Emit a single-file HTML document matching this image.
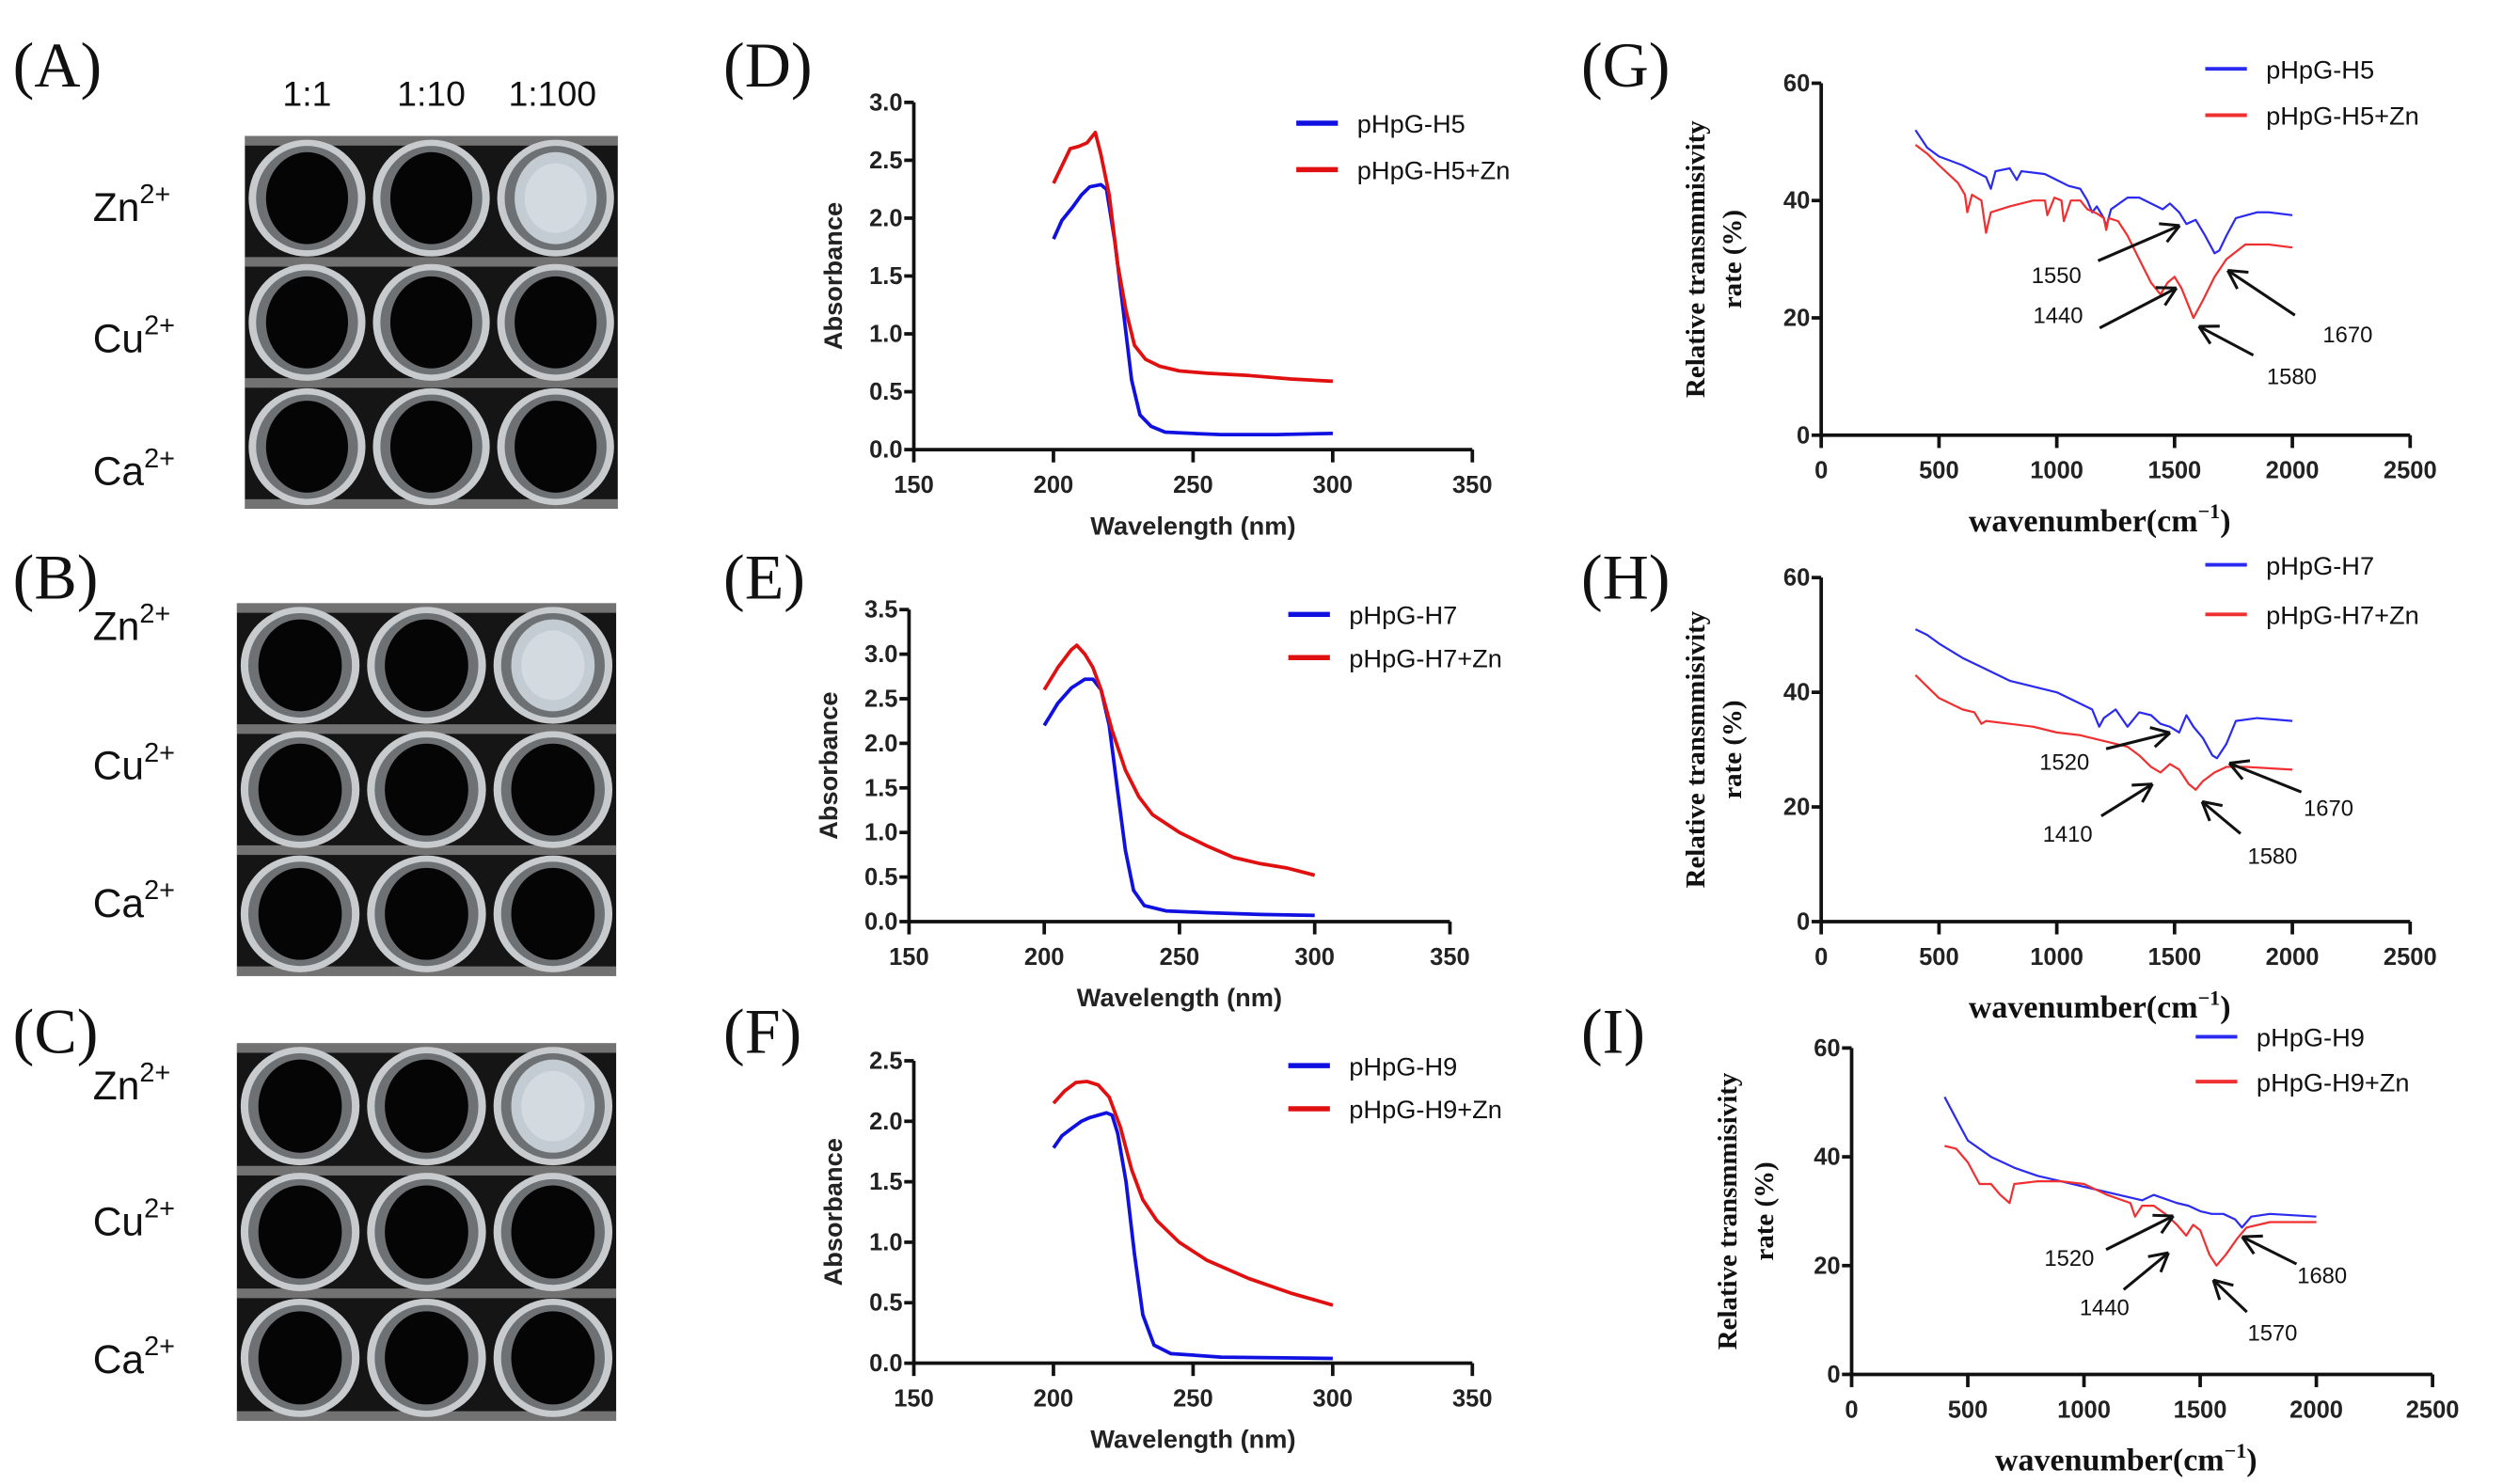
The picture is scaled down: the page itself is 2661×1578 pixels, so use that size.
<!DOCTYPE html>
<html><head><meta charset="utf-8"><style>
html,body{margin:0;padding:0;background:#fff;}
svg{display:block;}
.tk{font-family:"Liberation Sans",Arial,sans-serif;font-size:15px;font-weight:bold;fill:#222;}
.lg{font-family:"Liberation Sans",Arial,sans-serif;font-size:16px;fill:#111;}
.pl{font-family:"Liberation Serif",serif;font-size:40px;fill:#111;}
.ann{font-family:"Liberation Sans Narrow","Liberation Sans",sans-serif;font-size:14px;fill:#111;}
.ser{font-family:"Liberation Serif",serif;font-weight:bold;fill:#111;}
</style></head><body>
<svg id="fig" width="2661" height="1578" viewBox="0 0 1564 927.5" xmlns="http://www.w3.org/2000/svg">
<g id="photos"></g>
<g id="charts"></g>
</svg>
<script>
// ---- UV spectra data (wavelength nm, absorbance) ----
const dX_H5=[200,203,207,210,213,217,219,222,225,228,231,235,240,250,260,280,300];
const dY_H5=[1.82,1.98,2.1,2.2,2.27,2.29,2.25,1.8,1.2,0.6,0.3,0.2,0.15,0.14,0.13,0.13,0.14];
const dX_H5Zn=[200,203,206,209,212,215,217,220,223,226,229,233,238,245,255,270,285,300];
const dY_H5Zn=[2.3,2.45,2.6,2.62,2.65,2.74,2.55,2.2,1.6,1.2,0.9,0.78,0.72,0.68,0.66,0.64,0.61,0.59];
const eX_H7=[200,205,210,215,218,221,224,227,230,233,237,245,260,280,300];
const eY_H7=[2.2,2.45,2.62,2.72,2.72,2.6,2.2,1.5,0.8,0.35,0.18,0.12,0.1,0.08,0.07];
const eX_H7Zn=[200,205,210,212,215,218,221,225,230,235,240,250,260,270,280,290,300];
const eY_H7Zn=[2.6,2.85,3.05,3.1,3.0,2.85,2.6,2.15,1.7,1.4,1.2,1.0,0.85,0.72,0.65,0.6,0.52];
const fX_H9=[200,203,207,210,213,216,219,221,223,226,229,232,236,242,260,300];
const fY_H9=[1.78,1.88,1.95,2.0,2.03,2.05,2.07,2.05,1.9,1.5,0.9,0.4,0.15,0.08,0.05,0.04];
const fX_H9Zn=[200,204,208,212,216,220,224,228,232,237,245,255,270,285,300];
const fY_H9Zn=[2.15,2.25,2.32,2.33,2.3,2.2,1.95,1.6,1.35,1.18,1.0,0.85,0.7,0.58,0.48];
const uvXTicks=[150,200,250,300,350];
const dYTicks=[0,0.5,1.0,1.5,2.0,2.5,3.0];
const eYTicks=[0,0.5,1.0,1.5,2.0,2.5,3.0,3.5];
const fYTicks=[0,0.5,1.0,1.5,2.0,2.5];
// ---- FTIR data (wavenumber, transmissivity %) ----
const gX_H5=[400,450,500,600,700,720,740,800,830,850,950,1000,1050,1100,1130,1150,1170,1200,1210,1230,1300,1350,1400,1450,1480,1520,1550,1590,1630,1670,1690,1720,1760,1850,1900,2000];
const gY_H5=[52,49,47.5,46,44,42,45,45.5,43.5,45,44.5,43.5,42.5,42,40,38,39,37,35.5,38.5,40.5,40.5,39.5,38.5,39.5,38,36,36.7,34,31,31.5,34,37,38,38,37.5];
const gX_H5Zn=[400,450,500,580,610,620,640,680,700,720,800,900,950,960,990,1020,1030,1060,1100,1130,1170,1200,1210,1220,1260,1300,1350,1400,1440,1470,1500,1530,1580,1620,1670,1720,1800,1900,2000];
const gY_H5Zn=[49.5,48,46,43,41,38,41,40,34.5,38,39,40,40,37.5,40.5,40,36.5,40,40,38.5,37.8,37,35,37,36.5,34,30,26,24,26,27,25,20,23,27,30,32.5,32.5,32];
const hX_H7=[400,450,500,600,700,800,900,1000,1100,1150,1180,1200,1250,1300,1350,1400,1440,1480,1520,1550,1580,1620,1660,1680,1720,1760,1850,2000];
const hY_H7=[51,50,48.5,46,44,42,41,40,38,37,34,35.5,37,34,36.5,36,34.5,34,33,36,34,32,29,28.5,31,35,35.5,35];
const hX_H7Zn=[400,450,500,600,650,680,700,800,900,1000,1100,1200,1250,1300,1350,1400,1440,1480,1520,1560,1590,1620,1670,1720,1800,2000];
const hY_H7Zn=[43,41,39,37,36.5,34.5,35,34.5,34,33,32.5,31.5,31,30.5,29,27,26,27.5,26.5,24,23,24.5,26,27,27,26.5];
const iX_H9=[400,450,500,600,700,800,900,1000,1100,1200,1250,1300,1400,1450,1500,1550,1600,1650,1680,1720,1800,2000];
const iY_H9=[51,47,43,40,38,36.5,35.5,34.5,33.5,32.5,32,33,31.5,31,30,29.5,29.5,28.5,27,29,29.5,29];
const iX_H9Zn=[400,450,500,550,600,640,680,700,800,900,1000,1100,1200,1220,1250,1300,1350,1400,1440,1470,1500,1540,1570,1610,1660,1700,1800,2000];
const iY_H9Zn=[42,41.5,39,35,35,33,31.5,35,35.5,35.5,35,33,31.5,29,31,31,29.5,27.5,25.5,27.5,26.5,22,20,22,25,27,28,28];
const irXTicks=[0,500,1000,1500,2000,2500];
const irYTicks=[0,20,40,60];

const NS="http://www.w3.org/2000/svg";
function mk(parent,tag,attrs,text){const e=document.createElementNS(NS,tag);for(const k in attrs)e.setAttribute(k,attrs[k]);if(text!==undefined)e.textContent=text;parent.appendChild(e);return e;}
const charts=document.getElementById('charts');

function chart(p){
  const g=mk(charts,'g',{});
  
  
  const sx=v=>p.x0+(v-p.xmin)/(p.xmax-p.xmin)*(p.x1-p.x0);
  const sy=v=>p.y0-(v-p.ymin)/(p.ymax-p.ymin)*(p.y0-p.y1);
  const ax=mk(g,'g',{stroke:'#111','stroke-width':2.2,fill:'none'});
  
  
  mk(ax,'line',{x1:p.x0,y1:p.y0,x2:p.x1,y2:p.y0});
  mk(ax,'line',{x1:p.x0,y1:p.y0,x2:p.x0,y2:p.y1});
  p.xt.forEach(t=>{mk(ax,'line',{x1:sx(t),y1:p.y0,x2:sx(t),y2:p.y0+8});
    const l=mk(g,'text',{x:sx(t),y:p.y0+27,'text-anchor':'middle',class:'tk'},String(t));
    
    });
  p.yt.forEach(t=>{mk(ax,'line',{x1:p.x0-6,y1:sy(t),x2:p.x0,y2:sy(t)});
    const l=mk(g,'text',{x:p.x0-7,y:sy(t)+5,'text-anchor':'end',class:'tk'},p.fmt(t));
    
    });
  p.series.forEach((s,i)=>{
    const d=s.x.map((v,j)=>(j?'L':'M')+sx(v).toFixed(1)+','+sy(s.y[j]).toFixed(1)).join('');
    const path=mk(g,'path',{d:d,fill:'none',stroke:s.c,'stroke-width':p.lw,'stroke-linejoin':'round'});
    
    
    const ly=p.legY+i*p.legGap;
    const le=mk(g,'g',{});
    
    
    mk(le,'line',{x1:p.legX,y1:ly,x2:p.legX+26,y2:ly,stroke:s.c,'stroke-width':p.lw+1});
    mk(le,'text',{x:p.legX+38,y:ly+6,class:'lg'},s.n);
  });
  return {g,sx,sy};
}

function uvLabels(c,p){
  const xl=mk(c.g,'text',{x:(p.x0+p.x1)/2,y:p.y0+53,'text-anchor':'middle',class:'tk',style:'font-size:16px'},'Wavelength (nm)');
  
  
  const cy=(p.y0+p.y1)/2;
  const yl=mk(c.g,'text',{x:p.x0-45,y:cy,'text-anchor':'middle',class:'tk',style:'font-size:16px',transform:`rotate(-90 ${p.x0-45} ${cy})`},'Absorbance');
  
  
}
function irLabels(c,p,ylx){
  const xl=mk(c.g,'text',{x:(p.x0+p.x1)/2-10,y:p.y0+60,'text-anchor':'middle',class:'ser',style:'font-size:20px'},'wavenumber(cm');
  
  
  mk(xl,'tspan',{dy:-8,style:'font-size:13px'},'−1');
  mk(xl,'tspan',{dy:8},')');
  const cy=(p.y0+p.y1)/2;
  const y1=mk(c.g,'text',{x:ylx,y:cy,'text-anchor':'middle',class:'ser',style:'font-size:17px',transform:`rotate(-90 ${ylx} ${cy})`},'Relative transmmisivity');
  
  
  const y2=mk(c.g,'text',{x:ylx+23,y:cy,'text-anchor':'middle',class:'ser',style:'font-size:17px',transform:`rotate(-90 ${ylx+23} ${cy})`},'rate (%)');
  
  
}
function arrow(g,x1,y1,x2,y2,label,tx,ty){
  const a=mk(g,'g',{stroke:'#111','stroke-width':1.8,fill:'none'});
  
  
  mk(a,'line',{x1,y1,x2,y2});
  const ang=Math.atan2(y2-y1,x2-x1),L=13;
  [0.5,-0.5].forEach(o=>mk(a,'line',{x1:x2,y1:y2,x2:x2-L*Math.cos(ang+o),y2:y2-L*Math.sin(ang+o)}));
  mk(g,'text',{x:tx,y:ty,'text-anchor':'middle',class:'ann'},label);
}
const f1=t=>t.toFixed(1), f0=t=>String(t);

// D
let p={name:'chart-d',x0:571,x1:920,y0:281,y1:64,xmin:150,xmax:350,ymin:0,ymax:3,xt:uvXTicks,yt:dYTicks,fmt:f1,lw:2.2,legX:810,legY:77,legGap:29,
 series:[{n:'pHpG-H5',c:'#1010e0',x:dX_H5,y:dY_H5},{n:'pHpG-H5+Zn',c:'#e01010',x:dX_H5Zn,y:dY_H5Zn}]};
uvLabels(chart(p),p);
// E
p={name:'chart-e',x0:568,x1:906,y0:576,y1:381,xmin:150,xmax:350,ymin:0,ymax:3.5,xt:uvXTicks,yt:eYTicks,fmt:f1,lw:2.2,legX:805,legY:384,legGap:27,
 series:[{n:'pHpG-H7',c:'#1010e0',x:eX_H7,y:eY_H7},{n:'pHpG-H7+Zn',c:'#e01010',x:eX_H7Zn,y:eY_H7Zn}]};
uvLabels(chart(p),p);
// F
p={name:'chart-f',x0:571,x1:920,y0:852,y1:663,xmin:150,xmax:350,ymin:0,ymax:2.5,xt:uvXTicks,yt:fYTicks,fmt:f1,lw:2.2,legX:805,legY:666,legGap:27,
 series:[{n:'pHpG-H9',c:'#1010e0',x:fX_H9,y:fY_H9},{n:'pHpG-H9+Zn',c:'#e01010',x:fX_H9Zn,y:fY_H9Zn}]};
uvLabels(chart(p),p);
// G
p={name:'chart-g',x0:1138,x1:1506,y0:272,y1:52,xmin:0,xmax:2500,ymin:0,ymax:60,xt:irXTicks,yt:irYTicks,fmt:f0,lw:1.3,legX:1378,legY:43,legGap:29,
 series:[{n:'pHpG-H5',c:'#2a2af0',x:gX_H5,y:gY_H5},{n:'pHpG-H5+Zn',c:'#f03030',x:gX_H5Zn,y:gY_H5Zn}]};
let c=chart(p);irLabels(c,p,1065);
arrow(c.g,1311,163,1362,141,'1550',1285,177);
arrow(c.g,1312,205,1360,180,'1440',1286,202);
arrow(c.g,1408,222,1374,204,'1580',1432,240);
arrow(c.g,1434,197,1392,169,'1670',1467,214);
// H
p={name:'chart-h',x0:1138,x1:1506,y0:576,y1:361,xmin:0,xmax:2500,ymin:0,ymax:60,xt:irXTicks,yt:irYTicks,fmt:f0,lw:1.3,legX:1378,legY:353,legGap:31,
 series:[{n:'pHpG-H7',c:'#2a2af0',x:hX_H7,y:hY_H7},{n:'pHpG-H7+Zn',c:'#f03030',x:hX_H7Zn,y:hY_H7Zn}]};
c=chart(p);irLabels(c,p,1065);
arrow(c.g,1316,468,1356,458,'1520',1290,481);
arrow(c.g,1313,510,1345,490,'1410',1292,526);
arrow(c.g,1400,521,1376,501,'1580',1420,540);
arrow(c.g,1438,495,1393,477,'1670',1455,510);
// I
p={name:'chart-i',x0:1157,x1:1520,y0:859,y1:655,xmin:0,xmax:2500,ymin:0,ymax:60,xt:irXTicks,yt:irYTicks,fmt:f0,lw:1.3,legX:1372,legY:648,legGap:28,
 series:[{n:'pHpG-H9',c:'#2a2af0',x:iX_H9,y:iY_H9},{n:'pHpG-H9+Zn',c:'#f03030',x:iX_H9Zn,y:iY_H9Zn}]};
c=chart(p);irLabels(c,p,1085);
arrow(c.g,1316,781,1358,760,'1520',1293,791);
arrow(c.g,1327,806,1355,783,'1440',1315,822);
arrow(c.g,1404,820,1383,800,'1570',1420,838);
arrow(c.g,1435,790,1401,773,'1680',1451,802);

// panel labels
[['(A)',8,48],['(B)',8,368],['(C)',8,652],['(D)',452,48],['(E)',452,368],['(F)',452,652],['(G)',988,48],['(H)',988,368],['(I)',988,652]].forEach(a=>{
  const t=mk(charts,'text',{x:a[1],y:a[2]+6,class:'pl'},a[0]);
  
  
});

// photos
const photos=document.getElementById('photos');
const plates=[{x:153,y:85,w:233,h:233,hdr:true,ly:[128,210,293]},{x:148,y:377,w:237,h:233,ly:[390,477,563]},{x:148,y:652,w:237,h:236,ly:[677,762,848]}];
const conc=['1:1','1:10','1:100'];
const ions=['Zn','Cu','Ca'];
plates.forEach((pl,k)=>{
  const g=mk(photos,'g',{});
  
  
  mk(g,'rect',{x:pl.x,y:pl.y,width:pl.w,height:pl.h,fill:'#151515'});
  for(let r=0;r<4;r++){mk(g,'rect',{x:pl.x,y:pl.y+3+r*(pl.h-6)/3-3,width:pl.w,height:6,fill:'#b0b0b0',opacity:0.6});}
  const cw=pl.w/3,ch=pl.h/3;
  for(let r=0;r<3;r++)for(let q=0;q<3;q++){
    const cx=pl.x+cw*(q+0.5),cy=pl.y+ch*(r+0.5);
    mk(g,'ellipse',{cx,cy,rx:cw*0.47,ry:ch*0.47,fill:'#c8cbcd'});
    mk(g,'ellipse',{cx,cy,rx:cw*0.41,ry:ch*0.42,fill:'#6e7174'});
    const light=(r===0&&q===2);
    mk(g,'ellipse',{cx,cy,rx:cw*0.33,ry:ch*0.37,fill:light?'#c3ccd3':'#050505'});
    if(light)mk(g,'ellipse',{cx,cy,rx:cw*0.25,ry:ch*0.28,fill:'#d3dae0'});
  }
  if(pl.hdr){conc.forEach((s,q)=>{const t=mk(g,'text',{x:pl.x+cw*(q+0.5)+(q===2?-2:0),y:66,'text-anchor':'middle',class:'lg',style:'font-size:22px'},s);
    
    });}
  ions.forEach((s,r)=>{const t=mk(g,'text',{x:58,y:pl.ly[r]+10,class:'lg',style:'font-size:25px'},s);
    mk(t,'tspan',{dy:-11,style:'font-size:17px'},'2+');
    
    });
});
</script>
</body></html>
